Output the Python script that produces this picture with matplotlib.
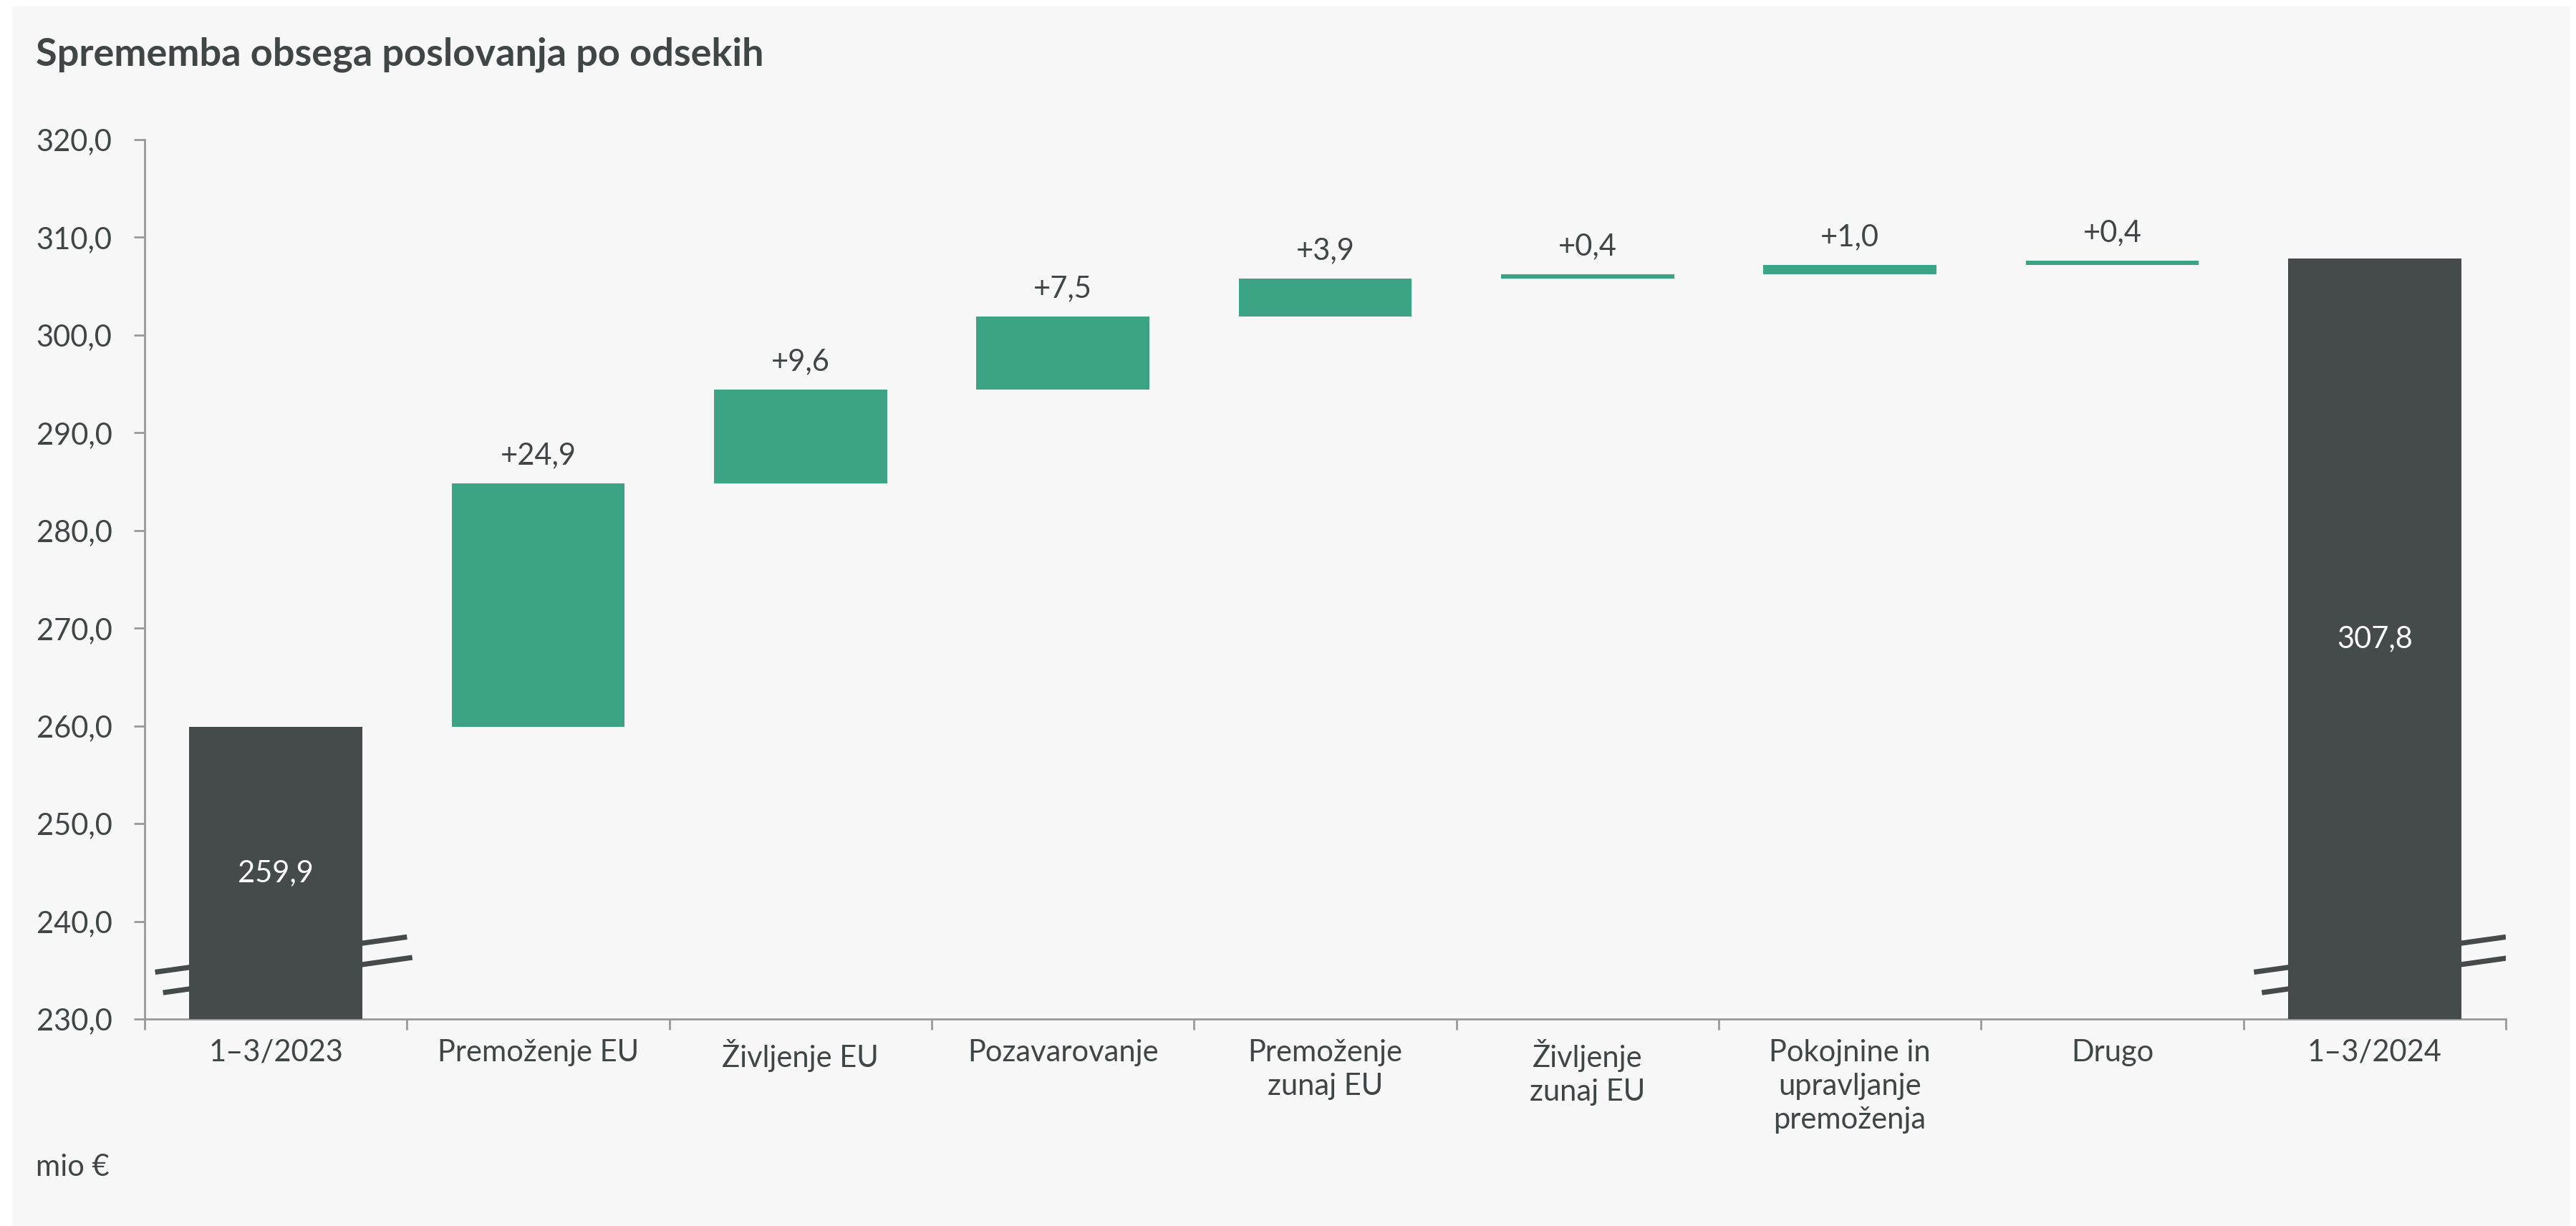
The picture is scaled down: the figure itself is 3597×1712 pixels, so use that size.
import matplotlib
matplotlib.use("Agg")
import matplotlib.pyplot as plt
from matplotlib.patches import Rectangle

plt.rcParams["font.family"] = ["Lato", "DejaVu Sans"]

# data
categories = ["1–3/2023", "Premoženje EU", "Življenje EU", "Pozavarovanje",
              "Premoženje\nzunaj EU", "Življenje\nzunaj EU",
              "Pokojnine in\nupravljanje\npremoženja", "Drugo", "1–3/2024"]
start_value = 259.9
end_value = 307.8
changes = [24.9, 9.6, 7.5, 3.9, 0.4, 1.0, 0.4]
y_ticks = [230, 240, 250, 260, 270, 280, 290, 300, 310, 320]

GREEN = "#3ca384"
DARK = "#454b4b"
TEXT = "#404545"
AXIS = "#999999"
BG = "#f7f7f7"

fig = plt.figure(figsize=(17.99, 8.56), dpi=200, facecolor="white")
fig.patches.append(Rectangle((17 / 3598, 0), (3588 - 17) / 3598, 1 - 9 / 1712,
                             transform=fig.transFigure, facecolor=BG,
                             edgecolor="none", zorder=-10))

ax = fig.add_axes([202 / 3598, 1 - 1423 / 1712, (3499 - 202) / 3598, (1423 - 195) / 1712])
ax.set_facecolor("none")

base = y_ticks[0]
width = 0.66
fs = 15

def fmt(v):
    return f"{v:.1f}".replace(".", ",")

# totals
n = len(categories)
for i, v in [(0, start_value), (n - 1, end_value)]:
    ax.bar(i, v - base, bottom=base, width=width, color=DARK, zorder=3)
    ax.text(i, (v + base) / 2, fmt(v), ha="center", va="center",
            color="white", fontsize=fs, zorder=4)
    # axis break marks (drawn behind the bar)
    for dx0, dx1, y0, y1 in [(-0.46, 0.5, 234.8, 238.4), (-0.43, 0.52, 232.7, 236.3)]:
        ax.plot([i + dx0, i + dx1], [y0, y1], color=DARK, lw=2.6,
                solid_capstyle="butt", zorder=2)

# increments
level = start_value
for k, d in enumerate(changes):
    i = k + 1
    ax.bar(i, d, bottom=level, width=width, color=GREEN, zorder=3)
    ax.annotate("+" + fmt(d), (i, level + d), xytext=(0, 14),
                textcoords="offset points", ha="center", va="center",
                color=TEXT, fontsize=fs)
    level += d

ax.set_xlim(-0.5, n - 0.5)
ax.set_ylim(y_ticks[0], y_ticks[-1])
ax.set_yticks(y_ticks)
ax.set_yticklabels([fmt(t) for t in y_ticks])
ax.set_xticks(range(n))
ax.set_xticklabels(categories, linespacing=1.3)
ax.set_xticks([x - 0.5 for x in range(n + 1)], minor=True)

for s in ["top", "right"]:
    ax.spines[s].set_visible(False)
for s in ["left", "bottom"]:
    ax.spines[s].set_color(AXIS)
    ax.spines[s].set_linewidth(1.0)

ax.tick_params(axis="y", length=5.4, width=1.0, color=AXIS, pad=11,
               labelsize=fs, labelcolor=TEXT)
ax.tick_params(axis="x", which="major", length=0, pad=10,
               labelsize=fs, labelcolor=TEXT)
ax.tick_params(axis="x", which="minor", length=5.4, width=1.0, color=AXIS)

fig.text(50 / 3598, 1 - 76 / 1712, "Sprememba obsega poslovanja po odsekih",
         fontsize=19.5, fontweight="bold", color=TEXT, ha="left", va="center")
fig.text(50 / 3598, 1 - 1630 / 1712, "mio €", fontsize=fs, color=TEXT,
         ha="left", va="center")

fig.savefig("out.png", dpi=200, facecolor=fig.get_facecolor())
